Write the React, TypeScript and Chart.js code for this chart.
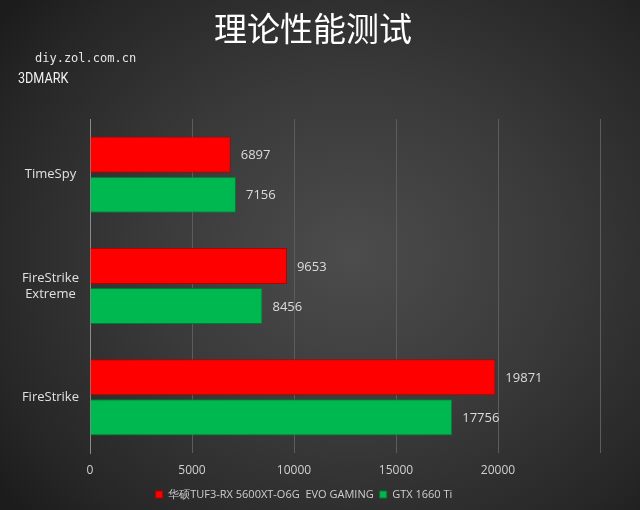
import React, { useEffect, useRef } from "react";
import { Chart, registerables } from "chart.js";

Chart.register(...registerables);

const categories: (string | string[])[] = ["TimeSpy", ["FireStrike", "Extreme"], "FireStrike"];
const seriesNames = ["华硕TUF3-RX 5600XT-O6G  EVO GAMING", "GTX 1660 Ti"];
const asusValues = [6897, 9653, 19871];
const gtxValues = [7156, 8456, 17756];
const xTicks = [0, 5000, 10000, 15000, 20000];
const xMax = 25000;

const FONT = "'Open Sans', 'Noto Sans', sans-serif";

const valueLabels = {
  id: "valueLabels",
  afterDatasetsDraw(chart: any) {
    const ctx = chart.ctx;
    ctx.save();
    ctx.font = `13px ${FONT}`;
    ctx.fillStyle = "#dcdcdc";
    ctx.textBaseline = "middle";
    ctx.textAlign = "left";
    chart.data.datasets.forEach((ds: any, di: number) => {
      const meta = chart.getDatasetMeta(di);
      meta.data.forEach((bar: any, i: number) => {
        ctx.fillText(String(ds.data[i]), bar.x + 10, bar.y + 1);
      });
    });
    ctx.restore();
  },
};

export default function App() {
  const ref = useRef<HTMLCanvasElement>(null);
  useEffect(() => {
    const chart = new Chart(ref.current!, {
      type: "bar",
      data: {
        labels: categories,
        datasets: [
          {
            label: seriesNames[0],
            data: asusValues,
            backgroundColor: "#ff0000",
            borderColor: "#b00000",
            borderWidth: 1,
            categoryPercentage: 0.72,
            barPercentage: 0.9,
          },
          {
            label: seriesNames[1],
            data: gtxValues,
            backgroundColor: "#00b850",
            borderColor: "#007a35",
            borderWidth: 1,
            categoryPercentage: 0.72,
            barPercentage: 0.9,
          },
        ],
      },
      options: {
        indexAxis: "y",
        animation: false,
        responsive: false,
        maintainAspectRatio: false,
        layout: { padding: { top: 119, right: 40, left: 8, bottom: 0 } },
        scales: {
          x: {
            min: 0,
            max: xMax,
            afterBuildTicks: (s: any) => {
              s.ticks = [...xTicks, xMax].map((v) => ({ value: v }));
            },
            afterFit: (s: any) => {
              s.height = 30;
            },
            ticks: {
              color: "#d0d0d0",
              font: { size: 12, family: FONT },
              padding: 10,
              callback: (v: any) => (xTicks.includes(Number(v)) ? String(v) : ""),
            },
            grid: { color: "#5c5c5c", drawTicks: false },
            border: { display: false },
          },
          y: {
            afterFit: (s: any) => {
              s.width = 82;
            },
            ticks: {
              color: "#e0e0e0",
              font: { size: 13, family: FONT },
              crossAlign: "center",
              padding: 11,
            },
            grid: { display: false, drawTicks: false },
            border: { display: true, color: "#8a8a8a", width: 1 },
          },
        },
        plugins: {
          legend: {
            position: "bottom",
            labels: {
              color: "#cfcfcf",
              font: { size: 11, family: FONT },
              boxWidth: 7,
              boxHeight: 7,
              padding: 6,
            },
          },
          tooltip: { enabled: false },
        },
      },
      plugins: [valueLabels],
    });
    return () => chart.destroy();
  }, []);

  return (
    <div
      style={{
        position: "fixed",
        left: 0,
        top: 0,
        width: 640,
        height: 510,
        background:
          "radial-gradient(ellipse 70% 75% at 55% 50%, #4c4c4c 0%, #3a3a3a 45%, #262626 85%, #1c1c1c 100%)",
        overflow: "hidden",
      }}
    >
      <canvas ref={ref} width={640} height={510} style={{ position: "absolute", left: 0, top: 0 }} />
      <div
        style={{
          position: "absolute",
          left: 0,
          width: 626,
          top: 5,
          textAlign: "center",
          color: "#ffffff",
          fontFamily: "'Noto Sans CJK SC', sans-serif",
          fontSize: 33,
          fontWeight: 400,
          lineHeight: "44px",
        }}
      >
        理论性能测试
      </div>
      <div
        style={{
          position: "absolute",
          left: 35,
          top: 50,
          color: "#e6e6e6",
          fontFamily: "'DejaVu Sans Mono', monospace",
          fontSize: 12,
          lineHeight: "16px",
        }}
      >
        diy.zol.com.cn
      </div>
      <div
        style={{
          position: "absolute",
          left: 18,
          top: 69,
          color: "#f0f0f0",
          fontFamily: "'Liberation Sans Narrow', 'Roboto', sans-serif",
          fontSize: 14,
          lineHeight: "18px",
          transform: "scaleX(0.9)",
          transformOrigin: "left center",
        }}
      >
        3DMARK
      </div>
    </div>
  );
}
